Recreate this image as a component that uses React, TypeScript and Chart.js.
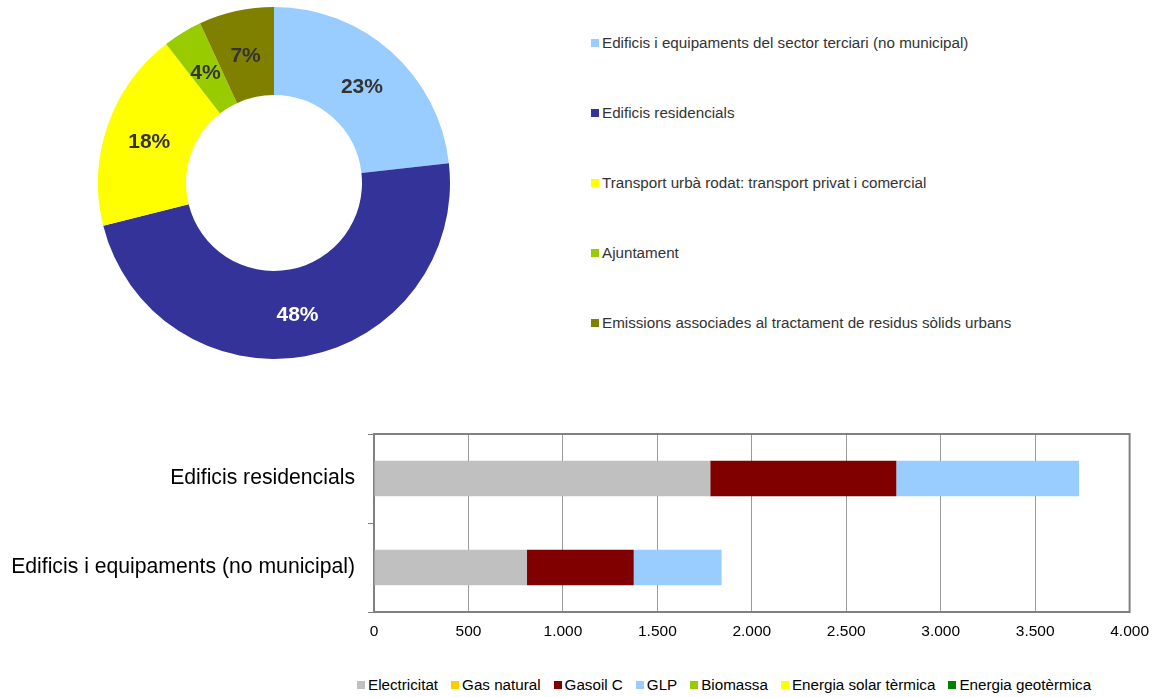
import { useEffect, useRef } from 'react';
import { Chart, registerables } from 'chart.js';

Chart.register(...registerables);

const FONT = '"Liberation Sans", Arial, Helvetica, sans-serif';

// ---- Doughnut data ----
const sectorLabels = [
  'Edificis i equipaments del sector terciari (no municipal)',
  'Edificis residencials',
  'Transport urbà rodat: transport privat i comercial',
  'Ajuntament',
  'Emissions associades al tractament de residus sòlids urbans',
];
const sectorShares = [23.2, 47.9, 18.4, 3.6, 6.9];
const sectorColors = ['#99CCFF', '#333399', '#FFFF00', '#99CC00', '#808000'];
const sectorLabelColors = ['#333333', '#FFFFFF', '#333333', '#333333', '#333333'];

// ---- Bar data ----
const barCategories = ['Edificis residencials', 'Edificis i equipaments (no municipal)'];
const energyNames = [
  'Electricitat',
  'Gas natural',
  'Gasoil C',
  'GLP',
  'Biomassa',
  'Energia solar tèrmica',
  'Energia geotèrmica',
];
const energyColors = ['#C0C0C0', '#FFCC00', '#800000', '#99CCFF', '#99CC00', '#FFFF00', '#008000'];
const electricitat = [1780, 810];
const gasNatural = [0, 0];
const gasoilC = [985, 565];
const glp = [967, 465];
const biomassa = [0, 0];
const solarTermica = [0, 0];
const geotermica = [0, 0];
const energyValues = [electricitat, gasNatural, gasoilC, glp, biomassa, solarTermica, geotermica];
const xMin = 0;
const xMax = 4000;
const xStep = 500;

function fmtThousands(v: number): string {
  const s = Math.round(v).toString();
  return s.replace(/\B(?=(\d{3})+(?!\d))/g, '.');
}

const pctPlugin = {
  id: 'pctLabels',
  afterDatasetsDraw(chart: any) {
    const ctx = chart.ctx;
    const meta = chart.getDatasetMeta(0);
    const data = chart.data.datasets[0].data as number[];
    const total = data.reduce((a, b) => a + b, 0);
    ctx.save();
    ctx.font = `bold 21px ${FONT}`;
    ctx.textAlign = 'center';
    ctx.textBaseline = 'middle';
    meta.data.forEach((arc: any, i: number) => {
      const p = arc.tooltipPosition(true);
      ctx.fillStyle = sectorLabelColors[i];
      ctx.fillText(Math.round((data[i] / total) * 100) + '%', p.x, p.y + 2.5);
    });
    ctx.restore();
  },
};

const framePlugin = {
  id: 'frame',
  afterDraw(chart: any) {
    const { left, right, top, bottom } = chart.chartArea;
    const ctx = chart.ctx;
    ctx.save();
    ctx.strokeStyle = '#808080';
    ctx.lineWidth = 2;
    ctx.beginPath();
    ctx.moveTo(left - 1, top);
    ctx.lineTo(right, top);
    ctx.lineTo(right, bottom + 1);
    ctx.stroke();
    ctx.restore();
  },
};

export default function App() {
  const donutRef = useRef<HTMLCanvasElement>(null);
  const barRef = useRef<HTMLCanvasElement>(null);

  useEffect(() => {
    const donut = new Chart(donutRef.current as HTMLCanvasElement, {
      type: 'doughnut',
      data: {
        labels: sectorLabels,
        datasets: [
          {
            data: sectorShares,
            backgroundColor: sectorColors,
            borderWidth: 0,
          },
        ],
      },
      options: {
        responsive: false,
        maintainAspectRatio: false,
        animation: false,
        cutout: '50%',
        layout: { padding: 0 },
        plugins: { legend: { display: false }, tooltip: { enabled: false } },
      },
      plugins: [pctPlugin],
    });

    const bar = new Chart(barRef.current as HTMLCanvasElement, {
      type: 'bar',
      data: {
        labels: barCategories,
        datasets: energyNames.map((name, i) => ({
          label: name,
          data: energyValues[i],
          backgroundColor: energyColors[i],
          borderWidth: 0,
          categoryPercentage: 0.4,
          barPercentage: 1,
        })),
      },
      options: {
        indexAxis: 'y',
        responsive: false,
        maintainAspectRatio: false,
        animation: false,
        layout: { padding: { top: 14, right: 28, bottom: 0, left: 0 } },
        plugins: { legend: { display: false }, tooltip: { enabled: false } },
        scales: {
          x: {
            stacked: true,
            min: xMin,
            max: xMax,
            ticks: {
              stepSize: xStep,
              padding: 10,
              color: '#000000',
              font: { family: FONT, size: 15.5 },
              callback: (v: any) => fmtThousands(Number(v)),
            },
            grid: { color: '#9A9A9A', lineWidth: 1, drawTicks: false },
            border: { display: true, color: '#808080', width: 2 },
            afterFit: (scale: any) => {
              scale.height = 48;
            },
          },
          y: {
            stacked: true,
            ticks: {
              padding: 13,
              color: '#000000',
              font: { family: FONT, size: 21.2 },
            },
            grid: {
              offset: true,
              drawOnChartArea: false,
              drawTicks: true,
              tickLength: 6,
              color: '#808080',
              lineWidth: 1,
            },
            border: { display: true, color: '#808080', width: 2 },
            afterFit: (scale: any) => {
              scale.width = 374;
              scale.paddingTop = 0;
              scale.paddingBottom = 0;
            },
          },
        },
      },
      plugins: [framePlugin],
    });

    return () => {
      donut.destroy();
      bar.destroy();
    };
  }, []);

  const legendText = { fontFamily: FONT, fontSize: 15.2, lineHeight: '18px', whiteSpace: 'nowrap' as const };

  return (
    <div style={{ position: 'absolute', left: 0, top: 0, width: 1159, height: 697, background: '#fff', overflow: 'hidden' }}>
      <canvas
        ref={donutRef}
        width={352}
        height={352}
        style={{ position: 'absolute', left: 98, top: 7, width: 352, height: 352 }}
      />
      {sectorLabels.map((lab, i) => (
        <div
          key={lab}
          style={{ position: 'absolute', left: 591, top: 43 + i * 70 - 9, height: 18, display: 'flex', alignItems: 'center' }}
        >
          <span style={{ display: 'inline-block', width: 8, height: 8, background: sectorColors[i], marginRight: 3 }} />
          <span style={{ ...legendText, color: '#333333' }}>{lab}</span>
        </div>
      ))}
      <canvas
        ref={barRef}
        width={1159}
        height={240}
        style={{ position: 'absolute', left: 0, top: 420, width: 1159, height: 240 }}
      />
      <div style={{ position: 'absolute', left: 357, top: 676, height: 18, display: 'flex', alignItems: 'center' }}>
        {energyNames.map((name, i) => (
          <div key={name} style={{ display: 'flex', alignItems: 'center', marginRight: 13 }}>
            <span style={{ display: 'inline-block', width: 8, height: 8, background: energyColors[i], marginRight: 3 }} />
            <span style={{ ...legendText, color: '#000000' }}>{name}</span>
          </div>
        ))}
      </div>
    </div>
  );
}
